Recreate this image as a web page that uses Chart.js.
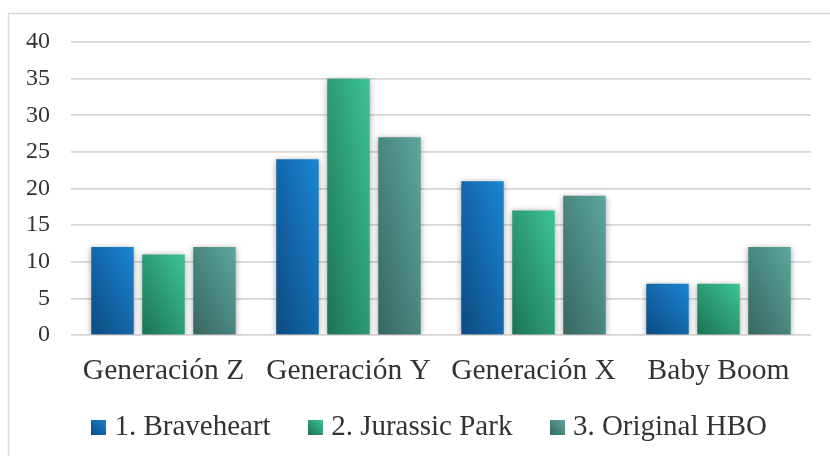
<!DOCTYPE html>
<html>
<head>
<meta charset="utf-8">
<script src="https://cdn.jsdelivr.net/npm/chart.js@4.4.1/dist/chart.umd.min.js"></script>
<style>
  html, body { margin: 0; padding: 0; background: #fff; }
  #wrap { width: 830px; height: 456px; }
</style>
</head>
<body>
<div id="wrap"><canvas id="generaciones" width="830" height="456"></canvas></div>
<script>
var categorias = ["Generación Z", "Generación Y", "Generación X", "Baby Boom"];
var series = ["1. Braveheart", "2. Jurassic Park", "3. Original HBO"];
var braveheart = [12, 24, 21, 7];
var jurassicPark = [11, 35, 17, 7];
var originalHBO = [12, 27, 19, 12];
var marcasY = [0, 5, 10, 15, 20, 25, 30, 35, 40];

// oscuro (abajo izq) -> claro (arriba der)
var tonos = [
    ['#0c4a80', '#1b85d4'],
    ['#1c7254', '#3dc496'],
    ['#37665f', '#5ca79e']
];
var letra = 'Liberation Serif, Times New Roman, serif';

function degradado(ctx, x0, y0, x1, y1, par) {
    var w = x1 - x0, h = y1 - y0;
    var L = Math.sqrt(w * w + h * h) || 1;
    var cx = (x0 + x1) / 2, cy = (y0 + y1) / 2;
    var dx = h / L, dy = -w / L;
    var r = w * h / L;
    var g = ctx.createLinearGradient(cx - dx * r, cy - dy * r, cx + dx * r, cy + dy * r);
    g.addColorStop(0, par[0]);
    g.addColorStop(1, par[1]);
    return g;
}

function cajita(par) {
    var c = document.createElement('canvas');
    c.width = 15; c.height = 15;
    var cx = c.getContext('2d');
    cx.fillStyle = degradado(cx, 0, 0, 15, 15, par);
    cx.fillRect(0, 0, 15, 15);
    return c;
}
var cajas = tonos.map(cajita);

var marco = {
    id: 'marco',
    beforeDraw: function(chart) {
        var ctx = chart.ctx;
        ctx.save();
        ctx.fillStyle = '#fff';
        ctx.fillRect(0, 0, chart.width, chart.height);
        ctx.strokeStyle = '#d9d9d9';
        ctx.lineWidth = 1.5;
        ctx.beginPath();
        ctx.moveTo(8.5, chart.height + 5);
        ctx.lineTo(8.5, 13.5);
        ctx.lineTo(chart.width + 5, 13.5);
        ctx.stroke();
        ctx.restore();
    }
};

var sombras = {
    id: 'sombras',
    beforeDatasetsDraw: function(chart) {
        var ctx = chart.ctx;
        chart.data.datasets.forEach(function(ds, i) {
            chart.getDatasetMeta(i).data.forEach(function(bar) {
                var p = bar.getProps(['x', 'y', 'base', 'width'], true);
                var o = Object.assign({}, bar.options);
                o.backgroundColor = degradado(ctx, p.x - p.width / 2, p.y, p.x + p.width / 2, p.base, tonos[i]);
                bar.options = o;
            });
        });
        ctx.save();
        ctx.shadowColor = 'rgba(0, 0, 0, 0.35)';
        ctx.shadowBlur = 6;
        ctx.shadowOffsetY = 1;
    },
    afterDatasetsDraw: function(chart) {
        chart.ctx.restore();
    }
};

var ctx = document.getElementById('generaciones');
var grafico = new Chart(ctx, {
    type: 'bar',
    data: {
        labels: categorias,
        datasets: [
            { label: series[0], data: braveheart, backgroundColor: tonos[0][1] },
            { label: series[1], data: jurassicPark, backgroundColor: tonos[1][1] },
            { label: series[2], data: originalHBO, backgroundColor: tonos[2][1] }
        ]
    },
    options: {
        responsive: false,
        animation: false,
        layout: { padding: { left: 0, right: 19, top: 42, bottom: 4 } },
        datasets: { bar: { categoryPercentage: 0.827, barPercentage: 0.833 } },
        scales: {
            x: {
                grid: { display: false },
                border: { display: false },
                ticks: { font: { family: letra, size: 29.5 }, color: '#333', padding: 10.5 },
                afterFit: function(s) { s.height = 56; }
            },
            y: {
                min: 0,
                max: 40,
                afterBuildTicks: function(s) {
                    s.ticks = marcasY.map(function(v) { return { value: v }; });
                },
                grid: { color: '#d6d6d6', lineWidth: 1.7, drawTicks: false },
                border: { display: false },
                ticks: { font: { family: letra, size: 24 }, color: '#333', padding: 21 },
                afterFit: function(s) { s.width = 71; }
            }
        },
        plugins: {
            legend: {
                position: 'bottom',
                align: 'end',
                // titulo vacio con relleno negativo: sube la fila de la leyenda
                title: { display: true, text: '', font: { size: 10 }, padding: { top: -34, bottom: 0 } },
                labels: {
                    usePointStyle: true,
                    boxWidth: 2,
                    boxHeight: 15,
                    padding: 44,
                    font: { family: letra, size: 29 },
                    color: '#333',
                    generateLabels: function(chart) {
                        return chart.data.datasets.map(function(ds, i) {
                            return {
                                text: ds.label,
                                pointStyle: cajas[i],
                                fillStyle: 'transparent',
                                strokeStyle: 'transparent',
                                lineWidth: 0,
                                fontColor: '#333',
                                hidden: false,
                                datasetIndex: i
                            };
                        });
                    }
                }
            },
            tooltip: { enabled: false }
        }
    },
    plugins: [marco, sombras]
});
</script>
</body>
</html>
